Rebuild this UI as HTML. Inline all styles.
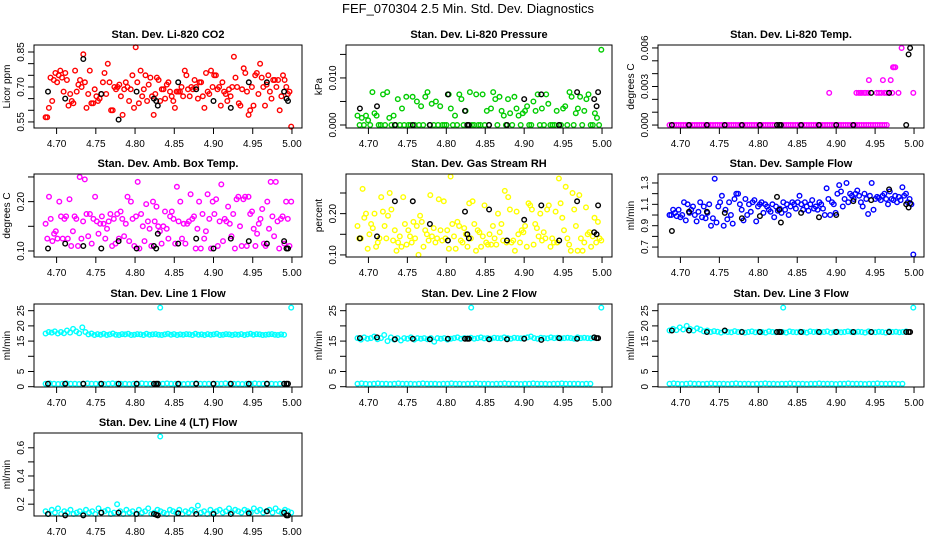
<!DOCTYPE html>
<html><head><meta charset="utf-8"><style>
html,body{margin:0;padding:0;background:#fff;}
svg{display:block;font-family:"Liberation Sans",sans-serif;}
</style></head><body>
<svg id="fig" width="936" height="540" viewBox="0 0 936 540">
<text x="468" y="13" text-anchor="middle" font-size="13">FEF_070304  2.5 Min. Std. Dev. Diagnostics</text>
</svg>
<script>
// ---- shared x (time) axis ----
const xTicks=[4.70,4.75,4.80,4.85,4.90,4.95,5.00];
const xTickLabels=["4.70","4.75","4.80","4.85","4.90","4.95","5.00"];
const blackX=[4.689,4.711,4.734,4.757,4.779,4.802,4.824,4.827,4.829,4.855,4.878,4.900,4.922,4.945,4.968,4.990,4.993,4.995];

// ---- panel data ----
const co2=[0.57,0.57,0.61,0.74,0.64,0.73,0.76,0.72,0.75,0.77,0.74,0.68,0.76,0.73,0.62,0.67,0.64,0.63,0.77,0.68,0.71,0.73,0.70,0.84,0.72,0.61,0.67,0.77,0.63,0.63,0.69,0.66,0.64,0.65,0.67,0.72,0.76,0.67,0.80,0.72,0.60,0.60,0.70,0.69,0.70,0.71,0.66,0.58,0.69,0.72,0.70,0.64,0.69,0.75,0.61,0.87,0.72,0.63,0.77,0.66,0.69,0.75,0.64,0.71,0.74,0.66,0.58,0.67,0.74,0.73,0.64,0.69,0.69,0.65,0.71,0.72,0.68,0.66,0.64,0.61,0.68,0.68,0.68,0.70,0.66,0.77,0.75,0.69,0.66,0.70,0.69,0.73,0.70,0.65,0.72,0.72,0.66,0.61,0.76,0.68,0.67,0.77,0.70,0.75,0.75,0.69,0.70,0.62,0.72,0.68,0.67,0.64,0.69,0.66,0.70,0.83,0.74,0.70,0.63,0.62,0.69,0.78,0.76,0.68,0.58,0.60,0.70,0.62,0.75,0.76,0.67,0.80,0.74,0.70,0.62,0.71,0.75,0.68,0.65,0.73,0.73,0.70,0.73,0.60,0.66,0.75,0.73,0.70,0.67,0.68,0.53];
const co2Black=[0.68,0.65,0.82,0.67,0.56,0.68,0.65,0.64,0.62,0.72,0.69,0.64,0.61,0.72,0.72,0.68,0.65,0.64];

const press=[0.002,0,0.0015,0,0.002,0.001,0,0.007,0.0025,0.002,0,0,0.0065,0,0.007,0.0015,0,0.002,0,0.0055,0,0.0035,0,0.006,0,0,0.006,0,0.005,0,0.004,0,0.006,0.007,0,0.0045,0,0.005,0,0.004,0,0,0,0.0065,0.0035,0,0.002,0,0.0065,0.0055,0,0.003,0,0.007,0,0,0.0065,0,0,0.0065,0,0.003,0,0.0035,0.007,0.0055,0,0.006,0.003,0.002,0,0.0055,0.0025,0,0.006,0.0035,0.002,0,0.0025,0.003,0.004,0,0,0.005,0.003,0.0065,0,0.0035,0,0.0065,0.0045,0,0,0,0.003,0,0,0.0035,0.004,0,0.007,0.006,0,0.0025,0.0035,0.006,0,0.003,0.0055,0.0065,0,0,0.0025,0.0015,0,0.016];
const pressBlack=[0.0035,0.004,0,0,0,0.0065,0.003,0,0,0,0,0.0055,0.0065,0,0.007,0.0055,0.004,0.007];

const tempBase=[0,0,0,0,0,0,0,0,0,0,0,0,0,0,0,0,0,0,0,0,0,0,0,0,0,0,0,0,0,0,0,0,0,0,0,0,0,0,0,0,0,0,0,0,0,0,0,0,0,0,0,0,0,0,0,0,0,0,0,0,0,0,0,0,0,0,0,0,0,0,0,0,0,0,0,0,0,0,0,0,0,0,0,0,0,0,0,0,0,0,0,0,0,0,0,0];
const tempExtraX=[4.891,4.926,4.929,4.931,4.933,4.936,4.938,4.941,4.942,4.952,4.955,4.958,4.960,4.962,4.965,4.968,4.970,4.972,4.973,4.974,4.976,4.980,4.984,4.999];
const tempExtraY=[0.0025,0.0025,0.0025,0.0025,0.0025,0.0025,0.0025,0.0025,0.0035,0.0025,0.0025,0.0025,0.0035,0.0025,0.0025,0.0025,0.0035,0.0025,0.0045,0.0045,0.0045,0.0025,0.006,0.0025];
const tempBlack=[0,0,0,0,0,0,0,0,0,0,0,0,0,0.0025,0.0025,0,0.0055,0.006];

const amb=[0.155,0.125,0.21,0.165,0.12,0.135,0.14,0.125,0.2,0.17,0.125,0.165,0.17,0.125,0.205,0.11,0.14,0.17,0.165,0.11,0.25,0.125,0.16,0.245,0.175,0.13,0.175,0.115,0.165,0.21,0.16,0.135,0.155,0.17,0.155,0.125,0.145,0.16,0.175,0.11,0.165,0.115,0.175,0.125,0.18,0.165,0.13,0.155,0.21,0.12,0.2,0.165,0.11,0.17,0.24,0.105,0.175,0.15,0.12,0.195,0.16,0.145,0.11,0.2,0.16,0.19,0.15,0.14,0.115,0.15,0.18,0.145,0.125,0.17,0.18,0.165,0.115,0.23,0.16,0.2,0.125,0.155,0.115,0.155,0.16,0.215,0.165,0.17,0.105,0.145,0.2,0.105,0.175,0.125,0.14,0.215,0.165,0.105,0.2,0.175,0.205,0.11,0.16,0.235,0.12,0.165,0.16,0.19,0.155,0.13,0.175,0.105,0.205,0.21,0.15,0.11,0.205,0.21,0.11,0.21,0.175,0.18,0.145,0.11,0.135,0.155,0.165,0.185,0.115,0.11,0.2,0.145,0.24,0.17,0.13,0.24,0.16,0.105,0.165,0.17,0.115,0.2,0.165,0.11,0.2];
const ambBlack=[0.105,0.115,0.11,0.105,0.12,0.105,0.11,0.105,0.135,0.115,0.125,0.105,0.125,0.12,0.115,0.12,0.105,0.105];

const rh=[0.17,0.14,0.14,0.26,0.19,0.2,0.115,0.15,0.175,0.165,0.2,0.12,0.13,0.14,0.24,0.205,0.17,0.14,0.195,0.25,0.21,0.135,0.16,0.11,0.13,0.145,0.12,0.24,0.175,0.125,0.16,0.145,0.13,0.18,0.14,0.17,0.1,0.195,0.18,0.12,0.16,0.15,0.135,0.245,0.145,0.165,0.13,0.14,0.235,0.16,0.135,0.23,0.14,0.16,0.115,0.29,0.175,0.145,0.115,0.18,0.17,0.135,0.13,0.165,0.15,0.12,0.225,0.14,0.23,0.175,0.11,0.16,0.155,0.12,0.145,0.22,0.13,0.125,0.15,0.125,0.17,0.14,0.125,0.2,0.155,0.175,0.135,0.255,0.13,0.24,0.21,0.13,0.135,0.11,0.205,0.15,0.13,0.16,0.155,0.17,0.12,0.225,0.22,0.21,0.125,0.175,0.165,0.145,0.2,0.135,0.155,0.14,0.21,0.22,0.12,0.14,0.13,0.205,0.13,0.285,0.225,0.19,0.16,0.265,0.14,0.125,0.11,0.25,0.21,0.17,0.11,0.245,0.14,0.11,0.13,0.215,0.15,0.155,0.12,0.145,0.19,0.13,0.18,0.14,0.135];
const rhBlack=[0.14,0.145,0.23,0.23,0.175,0.135,0.205,0.15,0.14,0.21,0.135,0.185,0.22,0.135,0.23,0.155,0.15,0.22];

const samp=[1.0,1.0,1.05,1.02,0.99,1.05,0.98,1.0,1.12,0.95,1.1,1.02,1.05,1.08,1.0,0.94,1.03,1.12,0.98,1.08,0.97,1.02,1.1,0.9,0.97,1.34,0.93,1.08,1.12,1.18,0.9,1.05,0.96,1.12,1.0,0.92,1.15,1.2,1.2,1.1,1.05,0.95,1.15,1.0,1.1,1.03,1.12,1.14,0.94,1.08,1.1,1.12,1.02,1.1,1.08,1.05,1.03,1.1,0.98,1.08,1.04,1.06,1.02,1.12,1.05,1.1,1.0,1.08,1.12,1.1,1.06,1.12,1.18,1.1,1.05,1.12,1.08,1.04,1.1,1.14,1.06,1.08,1.05,1.12,1.1,1.06,1.0,1.25,1.15,1.0,1.12,1.1,1.02,1.2,1.28,1.22,1.08,1.15,1.3,1.12,1.2,1.18,1.15,1.2,1.23,1.18,1.12,1.08,1.2,1.15,1.01,1.18,1.3,1.05,1.15,1.17,1.16,1.14,1.18,1.2,1.15,1.1,1.22,1.15,1.14,1.18,1.12,1.17,1.14,1.26,1.18,1.2,1.12,1.15,1.1,0.63];
const sampBlack=[0.85,1.03,1.03,1.02,0.97,0.99,1.17,1.05,0.93,1.02,0.98,1.0,1.13,1.14,1.24,1.1,1.07,1.11];

const l1Hi=[17.5,18,17.8,18.2,17.5,18,17.6,18.5,17.8,19,18.2,17.6,19.5,18,17.2,17.5,17,17.3,17.1,17.4,17,17.2,17.5,17.1,17,17.3,17.2,17.4,17,17.1,17.3,17.2,17,17.4,17.1,17.2,17.3,17.1,17,17.2,17.4,17.1,17.3,17,17.2,17.1,17.3,17.2,17,17.4,17.1,17.2,17,17.3,17.1,17.2,17.4,17,17.1,17.3,17.2,17,17.2,17.1,17.3,17,17.2,17.4,17.1,17.3,17.2,17,17.1,17.2,17.3,17.1,17,17.2,17.1];
const l1Lo=[1,1.1,1,0.9,1,1.1,1,1,0.9,1,1.1,1,1,1,0.9,1,1.1,1,1,1,0.9,1,1,1.1,1,1,0.9,1,1,1.1,1,1,1,0.9,1,1,1.1,1,1,1,0.9,1,1,1.1,1,1,1,0.9,1,1,1.1,1,1,1,1,0.9,1,1];
const l1Black=[1,1,1,1,1,1,1,1,1,1,1,1,1,1,1,1,1,1];

const l2Hi=[16,15.5,16.2,15.8,16,16.5,15.6,16,17,15,16.2,15.5,16,15.2,16,15.8,16.2,15.5,16,15.8,16,15.6,16,14.8,16,15.8,16,15.5,15.8,16,16.2,15.8,16,15.9,16.1,15.8,16,16.2,15.9,16,15.8,16.1,16,15.9,16.2,16,15.8,16.1,16,15.9,16,16.2,16.5,16,15.8,16.1,16,15.9,16.2,16,16.1,15.9,16,16.1,16,15.8,16.2,16,16.1,16,15.9,16.1];
const l2Lo=[1,1.1,1,0.9,1,1.1,1,1,0.9,1,1.1,1,1,1,0.9,1,1.1,1,1,1,0.9,1,1,1.1,1,1,0.9,1,1,1.1,1,1,1,0.9,1,1,1.1,1,1,1,0.9,1,1,1.1,1,1,1,0.9,1,1,1.1,1,1,1,1,0.9,1,1];
const l2Black=[16,16.2,15.6,15.8,15.6,15.8,15.8,15.8,15.8,15.6,15.6,15.8,15.4,16,15.8,16.2,16,16];

const l3Hi=[18.5,19,18.6,19.5,18.8,20,19,18.5,19.2,18.8,18.2,18.5,18,18.3,18.1,17.8,18.2,18,17.9,18.3,18,18.1,17.8,18,18.2,17.9,18.1,18,17.8,18.2,18,17.9,18.1,18,17.8,18.2,18,17.9,18.1,18,17.8,18.2,18,18.1,17.9,18,18.2,17.8,18,18.1,17.9,18,18.2,18,17.9,18.1,18,17.8,18.2,18,17.9,18.1,18,17.8,18.2,18,18.1,17.9,18,18.2];
const l3Lo=[1,1.1,1,0.9,1,1.1,1,1,0.9,1,1.1,1,1,1,0.9,1,1.1,1,1,1,0.9,1,1,1.1,1,1,0.9,1,1,1.1,1,1,1,0.9,1,1,1.1,1,1,1,0.9,1,1,1.1,1,1,1,0.9,1,1,1.1,1,1,1,1,0.9,1];
const l3Black=[18.5,18.5,18,18.5,18,18,18,18,18,18,18,18,18,18,18,18,18,18];

const l4=[0.15,0.13,0.16,0.14,0.17,0.13,0.15,0.14,0.16,0.13,0.14,0.15,0.13,0.16,0.14,0.15,0.13,0.17,0.14,0.15,0.16,0.13,0.14,0.2,0.15,0.13,0.16,0.14,0.15,0.13,0.16,0.14,0.15,0.17,0.13,0.14,0.16,0.15,0.14,0.13,0.16,0.15,0.14,0.16,0.13,0.15,0.14,0.16,0.15,0.19,0.14,0.15,0.13,0.16,0.14,0.15,0.16,0.14,0.15,0.17,0.14,0.16,0.15,0.14,0.16,0.15,0.14,0.17,0.15,0.16,0.14,0.15,0.16,0.14,0.17,0.15,0.14,0.16,0.15,0.14];
const l4Black=[0.13,0.12,0.12,0.14,0.14,0.13,0.13,0.125,0.12,0.135,0.13,0.13,0.13,0.135,0.15,0.14,0.12,0.12];

const outX=[4.832,4.999];
const flowOutY=[26,26];
const l4OutX=[4.832];
const l4OutY=[0.68];

const svg=document.getElementById('fig');
const NS='http://www.w3.org/2000/svg';
function mk(tag,attrs,parent){const e=document.createElementNS(NS,tag);for(const k in attrs)e.setAttribute(k,attrs[k]);(parent||svg).appendChild(e);return e;}

const colL=[34,346,658],colW=[268,266,266];
const rowT=[45,174,304,433],rowH=83;
const XMIN=4.6712,XMAX=5.0128;

function uniformX(n,a,b){const r=[];for(let i=0;i<n;i++)r.push(a+(b-a)*i/(n-1));return r;}

const panels=[
 {t:"Stan. Dev. Li-820 CO2",yl:"Licor ppm",c:0,r:0,ymin:0.524,ymax:0.880,ticks:[0.55,0.60,0.65,0.70,0.75,0.80,0.85],labs:["0.55","","","0.70","","","0.85"],
  series:[{y:co2,col:"#ff0000"}],black:co2Black},
 {t:"Stan. Dev. Li-820 Pressure",yl:"kPa",c:1,r:0,ymin:-0.00064,ymax:0.0170,ticks:[0,0.005,0.010,0.015],labs:["0.000","","0.010",""],
  series:[{y:press,col:"#00cc00"}],black:pressBlack},
 {t:"Stan. Dev. Li-820 Temp.",yl:"degrees C",c:2,r:0,ymin:-0.00023,ymax:0.00623,ticks:[0,0.001,0.002,0.003,0.004,0.005,0.006],labs:["0.000","","","0.003","","","0.006"],
  series:[{y:tempBase,col:"#ff00ff",x1:4.965},{y:tempExtraY,x:tempExtraX,col:"#ff00ff"}],black:tempBlack},
 {t:"Stan. Dev. Amb. Box Temp.",yl:"degrees C",c:0,r:1,ymin:0.0878,ymax:0.256,ticks:[0.10,0.15,0.20,0.25],labs:["0.10","","0.20",""],
  series:[{y:amb,col:"#ff00ff"}],black:ambBlack},
 {t:"Stan. Dev. Gas Stream RH",yl:"percent",c:1,r:1,ymin:0.095,ymax:0.296,ticks:[0.10,0.15,0.20,0.25],labs:["0.10","","0.20",""],
  series:[{y:rh,col:"#ffff00"}],black:rhBlack},
 {t:"Stan. Dev. Sample Flow",yl:"ml/min",c:2,r:1,ymin:0.607,ymax:1.384,ticks:[0.7,0.8,0.9,1.0,1.1,1.2,1.3],labs:["0.7","","0.9","","1.1","","1.3"],
  series:[{y:samp,col:"#0000ff"}],black:sampBlack},
 {t:"Stan. Dev. Line 1 Flow",yl:"ml/min",c:0,r:2,ymin:-0.1,ymax:27.2,ticks:[0,5,10,15,20,25],labs:["0","5","","15","20","25"],
  series:[{y:l1Hi,col:"#00ffff",x1:4.99},{y:l1Lo,col:"#00ffff",x1:4.99},{y:flowOutY,x:outX,col:"#00ffff"}],black:l1Black},
 {t:"Stan. Dev. Line 2 Flow",yl:"ml/min",c:1,r:2,ymin:-0.1,ymax:27.2,ticks:[0,5,10,15,20,25],labs:["0","5","","15","","25"],
  series:[{y:l2Hi,col:"#00ffff",x1:4.99},{y:l2Lo,col:"#00ffff",x1:4.985},{y:flowOutY,x:outX,col:"#00ffff"}],black:l2Black},
 {t:"Stan. Dev. Line 3 Flow",yl:"ml/min",c:2,r:2,ymin:-0.1,ymax:27.2,ticks:[0,5,10,15,20,25],labs:["0","5","","15","20","25"],
  series:[{y:l3Hi,col:"#00ffff",x1:4.99},{y:l3Lo,col:"#00ffff",x1:4.985},{y:flowOutY,x:outX,col:"#00ffff"}],black:l3Black},
 {t:"Stan. Dev. Line 4 (LT) Flow",yl:"ml/min",c:0,r:3,ymin:0.116,ymax:0.705,ticks:[0.2,0.3,0.4,0.5,0.6],labs:["0.2","","0.4","","0.6"],
  series:[{y:l4,col:"#00ffff",x1:4.999},{y:l4OutY,x:l4OutX,col:"#00ffff"}],black:l4Black}
];

panels.forEach((p,pi)=>{
  const L=colL[p.c],W=colW[p.c],T=rowT[p.r],B=T+rowH;
  const sx=v=>L+(v-XMIN)/(XMAX-XMIN)*W;
  const sy=v=>B-(v-p.ymin)/(p.ymax-p.ymin)*rowH;
  const g=mk('g',{});
  
  
  const tt=mk('text',{x:L+W/2,y:T-7,'text-anchor':'middle','font-size':11,'font-weight':'bold'},g);
  tt.textContent=p.t;
  
  
  const yt=mk('text',{transform:`translate(${L-24},${T+rowH/2}) rotate(-90)`,'text-anchor':'middle','font-size':10},g);
  yt.textContent=p.yl;
  
  
  // points
  p.series.forEach(s=>{
    const xs=s.x||uniformX(s.y.length,4.686,s.x1||4.999);
    s.y.forEach((v,i)=>{
      const c=mk('circle',{cx:sx(xs[i]).toFixed(1),cy:sy(v).toFixed(1),r:2.3,fill:'none',stroke:s.col,'stroke-width':1.4},g);
      
      
    });
  });
  p.black.forEach((v,i)=>{
    const c=mk('circle',{cx:sx(blackX[i]).toFixed(1),cy:sy(v).toFixed(1),r:2.3,fill:'none',stroke:'#000','stroke-width':1.4},g);
    
    
  });
  // box
  const bx=mk('rect',{x:L,y:T,width:W,height:rowH,fill:'none',stroke:'#000','stroke-width':1},g);
  
  
  // x ticks
  xTicks.forEach((v,i)=>{
    const X=sx(v);
    mk('line',{x1:X,y1:B,x2:X,y2:B+6,stroke:'#000'},g);
    const t=mk('text',{x:X,y:B+19,'text-anchor':'middle','font-size':10},g);
    t.textContent=xTickLabels[i];
    
    
  });
  // y ticks
  p.ticks.forEach((v,i)=>{
    const Y=sy(v);
    mk('line',{x1:L-6,y1:Y,x2:L,y2:Y,stroke:'#000'},g);
    if(p.labs[i]){
      const t=mk('text',{transform:`translate(${L-10},${Y}) rotate(-90)`,'text-anchor':'middle','font-size':10},g);
      t.textContent=p.labs[i];
      
      
    }
  });
});
</script>
</body></html>
